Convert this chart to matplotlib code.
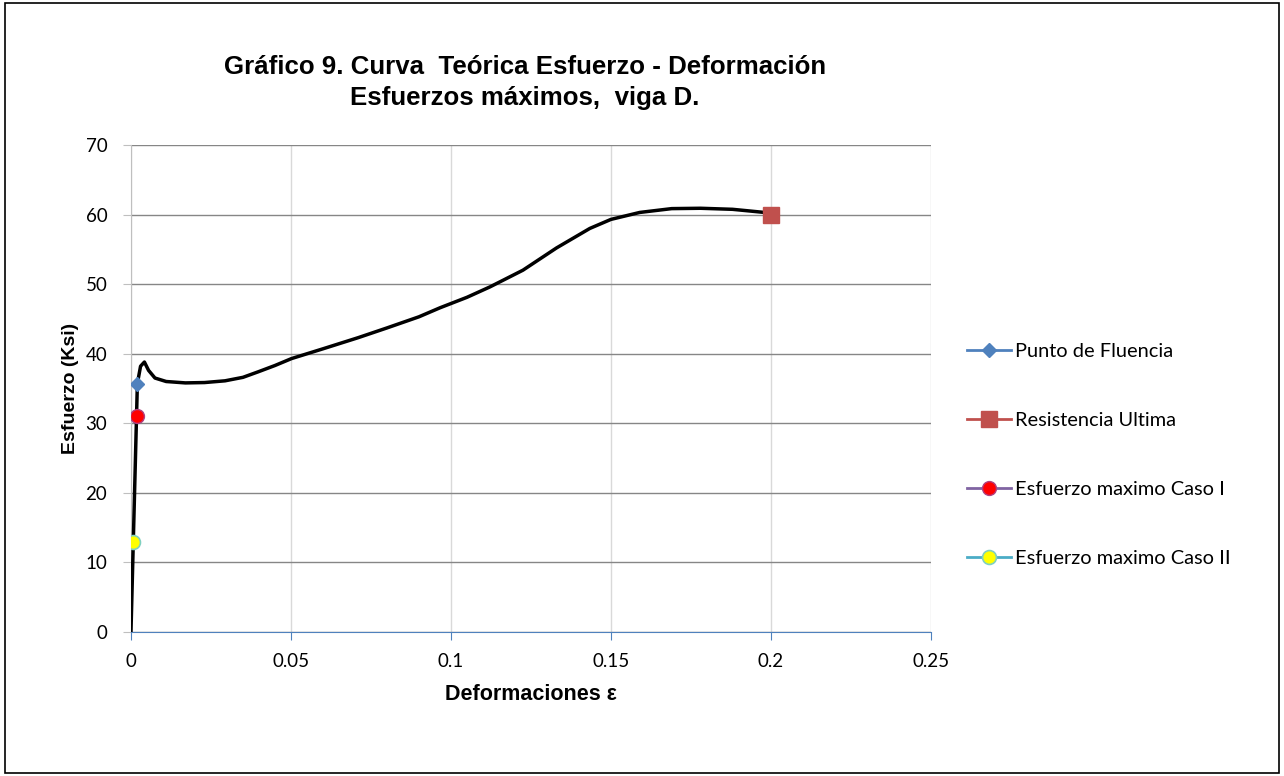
import matplotlib
matplotlib.use("Agg")
import matplotlib.pyplot as plt
from matplotlib.patches import Rectangle

# curva esfuerzo - deformacion
deform = [0, 0.002, 0.003, 0.0042, 0.0055, 0.0075, 0.011, 0.017, 0.023, 0.0294,
          0.035, 0.0398, 0.045, 0.0502, 0.06, 0.071, 0.08, 0.09, 0.0966, 0.105,
          0.1122, 0.1225, 0.133, 0.1434, 0.15, 0.159, 0.169, 0.178, 0.188, 0.198, 0.2]
esfuerzo = [0, 35.7, 38.2, 38.8, 37.6, 36.5, 36.0, 35.8, 35.85, 36.1,
            36.6, 37.4, 38.3, 39.3, 40.7, 42.3, 43.7, 45.3, 46.6, 48.1,
            49.6, 52.0, 55.2, 58.0, 59.3, 60.3, 60.85, 60.9, 60.75, 60.3, 60.2]

# puntos
fluencia = (0.002, 35.7)
ultima = (0.2, 60)
caso1 = (0.0019, 31)
caso2 = (0.0006, 13)

xticks = [0, 0.05, 0.1, 0.15, 0.2, 0.25]
xlabels = ["0", "0.05", "0.1", "0.15", "0.2", "0.25"]
yticks = [0, 10, 20, 30, 40, 50, 60, 70]

fig = plt.figure(figsize=(12.84, 7.76), dpi=100)
fig.patches.append(Rectangle((0.004, 0.004), 0.992, 0.992, transform=fig.transFigure,
                             fill=False, edgecolor="black", linewidth=1.2))
ax = fig.add_axes([0.102, 0.1856, 0.623, 0.6276])

ax.plot(deform, esfuerzo, color="black", linewidth=2.5, zorder=3,
        solid_joinstyle="round")

ax.plot([fluencia[0]], [fluencia[1]], color="#4F81BD", marker="D", markersize=7,
        linewidth=2, label="Punto de Fluencia", zorder=4)
ax.plot([ultima[0]], [ultima[1]], color="#C0504D", marker="s", markersize=11,
        linewidth=2, label="Resistencia Ultima", zorder=4)
ax.plot([caso1[0]], [caso1[1]], color="#8064A2", marker="o", markersize=10,
        markerfacecolor="#FF0000", markeredgecolor="#B04080", markeredgewidth=1,
        linewidth=2, label="Esfuerzo maximo Caso I", zorder=4)
ax.plot([caso2[0]], [caso2[1]], color="#4BACC6", marker="o", markersize=10,
        markerfacecolor="#FFFF00", markeredgecolor="#7FD0C0", markeredgewidth=1.2,
        linewidth=2, label="Esfuerzo maximo Caso II", zorder=4)

ax.set_xlim(0, 0.25)
ax.set_ylim(0, 70)
ax.set_xticks(xticks)
ax.set_xticklabels(xlabels)
ax.set_yticks(yticks)
ax.tick_params(labelsize=13.5, labelcolor="black", length=6, direction="out")
ax.tick_params(axis="y", color="#BFBFBF", pad=11)
ax.tick_params(axis="x", color="#4F81BD", pad=9)
for lab in ax.get_xticklabels() + ax.get_yticklabels():
    lab.set_family("Lato")

ax.yaxis.grid(True, color="#868686", linewidth=1)
ax.xaxis.grid(True, color="#D9D9D9", linewidth=1)
ax.set_axisbelow(True)
for s in ["top", "right"]:
    ax.spines[s].set_visible(False)
ax.spines["left"].set_color("#BFBFBF")
ax.spines["bottom"].set_color("#4F81BD")

ax.set_xlabel("Deformaciones ε", fontsize=15.5, fontweight="bold",
              family="Liberation Sans", labelpad=10)
ax.set_ylabel("Esfuerzo (Ksi)", fontsize=14, fontweight="bold",
              family="Liberation Sans", labelpad=5)

fig.text(0.409, 0.894, "Gráfico 9. Curva  Teórica Esfuerzo - Deformación\nEsfuerzos máximos,  viga D.",
         ha="center", va="center", fontsize=18.6, fontweight="bold",
         family="Liberation Sans", linespacing=1.38)

ax.legend(loc="center left", bbox_to_anchor=(1.035, 0.364), frameon=False,
          prop={"family": "Lato", "size": 14.4}, labelspacing=2.6,
          handlelength=2.2, handletextpad=0.2, borderaxespad=0)

fig.savefig("out.png", dpi=100)
